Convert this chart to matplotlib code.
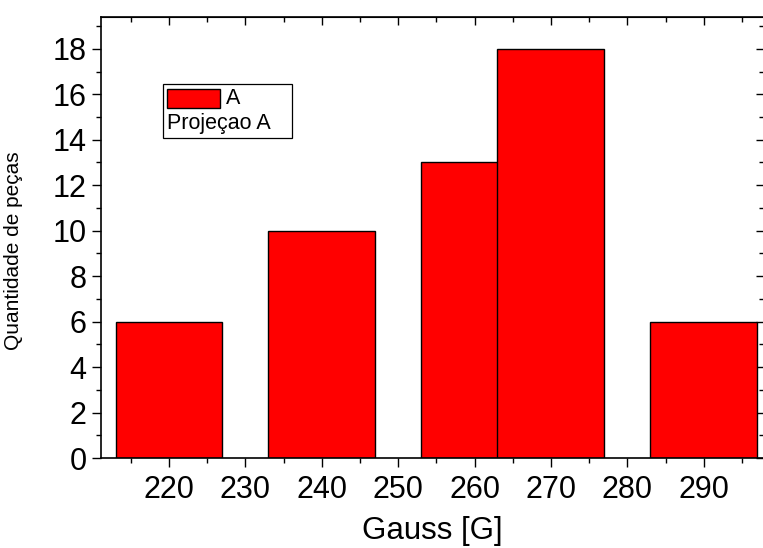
import numpy as np
import matplotlib
matplotlib.use('Agg')
import matplotlib.pyplot as plt
from matplotlib.offsetbox import (AnchoredOffsetbox, DrawingArea, HPacker,
                                  TextArea, VPacker)
from matplotlib.patches import Rectangle

plt.rcParams['font.family'] = ['Liberation Sans', 'DejaVu Sans']

# data
gauss = [220, 240, 260, 270, 290]
counts = [6, 10, 13, 18, 6]
bar_width = 14

x_ticks = [220, 230, 240, 250, 260, 270, 280, 290]
y_ticks = [0, 2, 4, 6, 8, 10, 12, 14, 16, 18]

fig = plt.figure(figsize=(7.63, 5.48), dpi=100)
ax = fig.add_axes([0.1324, 0.1642, 0.8690, 0.8048])

ax.bar(gauss, counts, width=bar_width, color='#ff0000',
       edgecolor='black', linewidth=1.0, zorder=2)

ax.set_xlim(211.1, 297.9)
ax.set_ylim(0, 19.4)
ax.set_xticks(x_ticks)
ax.set_yticks(y_ticks)
ax.set_xticks(np.arange(215, 300, 10), minor=True)
ax.set_yticks(np.arange(1, 20, 2), minor=True)

ax.tick_params(which='major', direction='out', length=6.5, width=1.0,
               labelsize=22)
ax.tick_params(axis='x', which='major', pad=6)
ax.tick_params(axis='y', which='major', pad=4)
ax.tick_params(which='minor', direction='out', length=3.5, width=1.0)
for s in ax.spines.values():
    s.set_linewidth(1.2)

# mirrored ticks pointing inward on top and right
top = ax.secondary_xaxis('top')
top.set_xticks(x_ticks)
top.set_xticks(np.arange(215, 300, 10), minor=True)
top.tick_params(which='major', direction='in', length=6, width=1.0, labeltop=False)
top.tick_params(which='minor', direction='in', length=3.5, width=1.0)
right = ax.secondary_yaxis('right')
right.set_yticks(y_ticks)
right.set_yticks(np.arange(1, 20, 2), minor=True)
right.tick_params(which='major', direction='in', length=6, width=1.0, labelright=False)
right.tick_params(which='minor', direction='in', length=3.5, width=1.0)

ax.set_xlabel('Gauss [G]', fontsize=22.5, labelpad=8)
ax.set_ylabel('Quantidade de peças', fontsize=15)
ax.yaxis.set_label_coords(-0.118, 0.47)

# legend box in Origin style
da = DrawingArea(38, 13.5, 0, 0)
da.add_artist(Rectangle((0, 0), 38, 13.5, facecolor='#ff0000',
                        edgecolor='black', linewidth=1.0))
row1 = HPacker(children=[da, TextArea('A', textprops=dict(size=15.5))],
               align='center', pad=0, sep=4)
row2 = HPacker(children=[TextArea('Projeçao A', textprops=dict(size=15.5)),
                         DrawingArea(12, 1, 0, 0)], pad=0, sep=0)
box = VPacker(children=[row1, row2], align='left', pad=0, sep=3)
anchored = AnchoredOffsetbox(loc='upper left', child=box, pad=0.28,
                             borderpad=0, frameon=True,
                             bbox_to_anchor=(0.094, 0.848),
                             bbox_transform=ax.transAxes)
anchored.patch.set_linewidth(0.9)
anchored.patch.set_boxstyle('square', pad=0)
ax.add_artist(anchored)

fig.savefig('out.png', dpi=100)
